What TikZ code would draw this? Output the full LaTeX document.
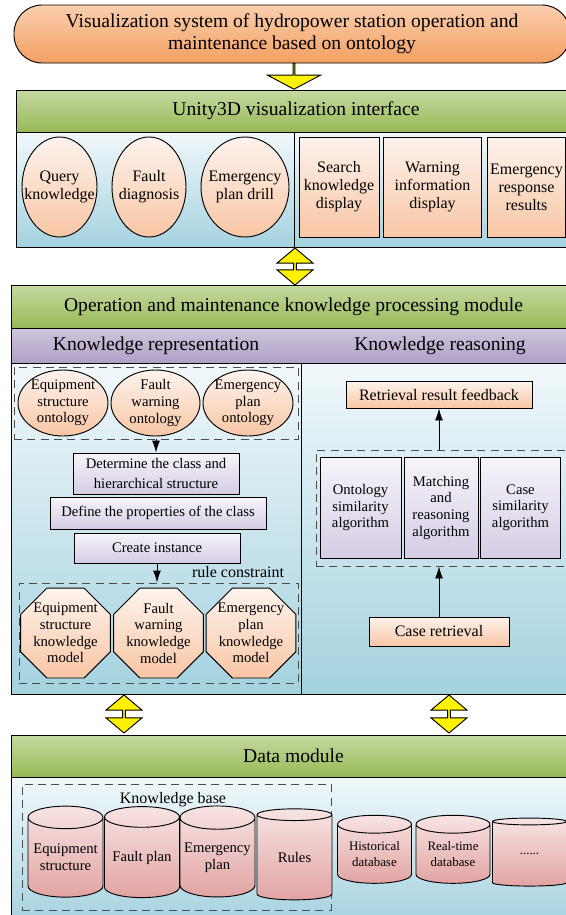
\documentclass[tikz,border=0pt]{standalone}
\usepackage{fontspec}
\setmainfont{Liberation Serif}
\usetikzlibrary{shapes.geometric,shapes.misc,shapes.arrows,arrows.meta}
\definecolor{titletop}{RGB}{250,206,174}
\definecolor{titlebot}{RGB}{243,160,98}
\definecolor{headtop}{RGB}{198,217,162}
\definecolor{headbot}{RGB}{152,185,86}
\definecolor{bandtop}{RGB}{207,197,221}
\definecolor{bandbot}{RGB}{176,160,198}
\definecolor{bodytop}{RGB}{241,248,251}
\definecolor{bodybot}{RGB}{164,210,223}
\definecolor{peachtop}{RGB}{253,243,237}
\definecolor{peachbot}{RGB}{248,198,164}
\definecolor{liltop}{RGB}{247,244,250}
\definecolor{lilbot}{RGB}{213,204,228}
\definecolor{rosetop}{RGB}{247,228,227}
\definecolor{rosebot}{RGB}{225,164,162}

\begin{document}
\begin{tikzpicture}[x=0.75pt, y=-0.75pt, line width=0.7pt,
  nodefont/.style={font=\fontsize{11}{12.5}\selectfont},
  largefont/.style={font=\fontsize{12}{13.5}\selectfont},
  bigfont/.style={font=\fontsize{14.7}{16.5}\selectfont},
  peach/.style={draw, top color=peachtop, bottom color=peachbot, align=center, inner sep=0pt, nodefont},
  peachoval/.style={peach, ellipse, inner xsep=-12pt, inner ysep=-6pt},
  octa/.style={peach, regular polygon, regular polygon sides=8, minimum size=73pt, inner sep=-4pt},
  lilac/.style={draw, top color=liltop, bottom color=lilbot, align=center, inner sep=0pt, nodefont},
  dbase/.style={draw, cylinder, shape border rotate=90, aspect=0.35, top color=rosetop, bottom color=rosebot, align=center, inner sep=0pt, nodefont},
  group/.style={draw=black!70, dash pattern=on 6pt off 4pt, inner sep=0pt},
  bar/.style={draw, top color=headtop, bottom color=headbot, bigfont, inner sep=0pt},
  panel/.style={draw, top color=bodytop, bottom color=bodybot},
  flow/.style={-{Latex[length=9pt,width=6pt]}},
  block/.style={draw, fill=yellow, inner sep=0pt},
  linkarrow/.style={block, double arrow, shape border rotate=90, minimum width=27pt,
    double arrow head extend=4.5pt, double arrow tip angle=100},
]
\useasboundingbox (0,0) rectangle (566,915);

\node[draw, rounded corners=21pt, top color=titletop, bottom color=titlebot, bigfont, align=center,
  inner sep=0pt, minimum width=417pt, minimum height=43.5pt] (title) at (292,34)
  {Visualization system of hydropower station operation and\\ maintenance based on ontology};
\node[block, single arrow, shape border rotate=270, minimum height=19.5pt, minimum width=39.75pt,
  single arrow head extend=11pt, single arrow tip angle=124] (down) at (294,76) {};

\node[bar, minimum width=420pt, minimum height=31.5pt] (unity) at (296,111) {Unity3D visualization interface};
\draw[panel] (16,132) rectangle (576,247);
\draw (294,132) -- (294,247);
\node[peachoval, largefont, minimum width=56.25pt, minimum height=75pt] (query) at (59.5,187) {Query\\knowledge};
\node[peachoval, largefont, minimum width=55.5pt, minimum height=75pt] (diag) at (149,187) {Fault\\diagnosis};
\node[peachoval, largefont, minimum width=66pt, minimum height=75pt] (drill) at (245,187) {Emergency\\plan drill};
\node[peach, largefont, minimum width=60pt, minimum height=75pt] (search) at (339,187) {Search\\knowledge\\display};
\node[peach, largefont, minimum width=74pt, minimum height=75pt] (warn) at (432.5,187) {Warning\\information\\display};
\node[peach, largefont, minimum width=59pt, minimum height=75pt] (resp) at (526.5,187) {Emergency\\response\\results};

\node[linkarrow, minimum height=27.75pt] (link1) at (295,266.5) {};

\node[bar, minimum width=423.75pt, minimum height=32.25pt] (proc) at (293.5,306.5)
  {Operation and maintenance knowledge processing module};
\draw[top color=bandtop, bottom color=bandbot] (11,328) rectangle (576,363);
\node[bigfont] (krep) at (156,346) {Knowledge representation};
\node[bigfont] (kreas) at (440,346) {Knowledge reasoning};
\draw[panel] (11,363) rectangle (576,694);
\draw (301,363) -- (301,694);

\node[group, minimum width=213pt, minimum height=54pt] (ontgrp) at (156,403) {};
\node[peachoval, minimum width=67.5pt, minimum height=49.5pt] (eqont) at (63,403) {Equipment\\structure\\ontology};
\node[peachoval, minimum width=66.75pt, minimum height=49.5pt] (fwont) at (155.5,403) {Fault\\warning\\ontology};
\node[peachoval, minimum width=67.5pt, minimum height=49.5pt] (epont) at (248,403) {Emergency\\plan\\ontology};

\node[lilac, font=\fontsize{11}{15}\selectfont, minimum width=124.5pt, minimum height=30.75pt] (classes) at (156,473.5)
  {Determine the class and\\hierarchical structure};
\node[lilac, minimum width=162pt, minimum height=24pt] (props) at (158,513)
  {Define the properties of the class};
\node[lilac, minimum width=124.5pt, minimum height=22.5pt] (inst) at (157,548)
  {Create instance};
\node[largefont] (rule) at (238,572) {rule constraint};

\node[group, minimum width=209.25pt, minimum height=75pt] (modgrp) at (158.5,633) {};
\node[octa] (eqmod) at (65.5,633) {Equipment\\structure\\knowledge\\model};
\node[octa] (fwmod) at (158.5,633) {Fault\\warning\\knowledge\\model};
\node[octa] (epmod) at (251,633) {Emergency\\plan\\knowledge\\model};

\draw[flow] (ontgrp.south) -- (classes.north);
\draw[flow] (inst.south) -- (inst.south |- modgrp.north);

\node[peach, largefont, minimum width=139.5pt, minimum height=20.25pt] (feedback) at (439,394.5) {Retrieval result feedback};
\node[group, minimum width=195pt, minimum height=87pt] (algogrp) at (446,508) {};
\node[lilac, minimum width=60.75pt, minimum height=75.75pt] (ontsim) at (360.5,507.5) {Ontology\\similarity\\algorithm};
\node[lilac, minimum width=55.5pt, minimum height=75.75pt] (match) at (441,507.5) {Matching\\and\\reasoning\\algorithm};
\node[lilac, minimum width=60pt, minimum height=75.75pt] (casesim) at (520.5,507.5) {Case\\similarity\\algorithm};
\node[peach, largefont, minimum width=105pt, minimum height=21.75pt] (caseret) at (439,631.5) {Case retrieval};

\draw[flow] (feedback.south |- algogrp.north) -- (feedback.south);
\draw[flow] (caseret.north) -- (caseret.north |- algogrp.south);

\node[linkarrow, minimum height=28.5pt] (link2) at (124,714) {};
\node[linkarrow, minimum height=28.5pt] (link3) at (449,714) {};

\node[bar, minimum width=423.75pt, minimum height=31.5pt] (data) at (293.5,756) {Data module};
\draw[panel] (11,777) rectangle (576,925);

\node[group, minimum width=231.75pt, minimum height=94.5pt] (kbgrp) at (176.5,847) {};
\node[largefont] (kblabel) at (173,800) {Knowledge base};
\node[dbase, minimum width=56.25pt, minimum height=68.25pt] (eqdb) at (65.5,857.5) {Equipment\\structure};
\node[dbase, minimum width=56.25pt, minimum height=68.25pt] (fpdb) at (142,857.5) {Fault plan};
\node[dbase, minimum width=56.25pt, minimum height=68.25pt] (epdb) at (217.5,857.5) {Emergency\\plan};
\node[dbase, minimum width=56.25pt, minimum height=68.25pt] (ruledb) at (294.5,857.5) {Rules};
\node[dbase, font=\fontsize{9.7}{11.5}\selectfont, minimum width=55.5pt, minimum height=51pt] (histdb) at (374.5,854) {Historical\\database};
\node[dbase, font=\fontsize{9.7}{11.5}\selectfont, minimum width=55.5pt, minimum height=51pt] (realdb) at (453,854) {Real-time\\database};
\node[dbase, font=\fontsize{9.7}{11.5}\selectfont, minimum width=55.5pt, minimum height=51pt] (moredb) at (529.5,854) {......};
\end{tikzpicture}
\end{document}
